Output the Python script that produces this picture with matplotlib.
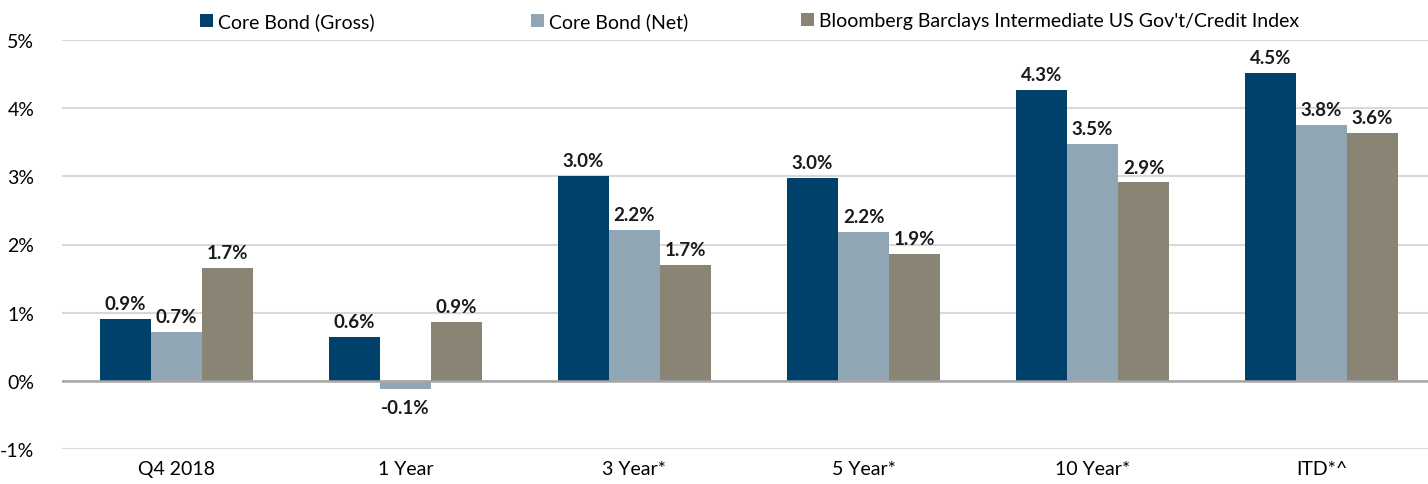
import matplotlib

matplotlib.use("Agg")
import matplotlib.pyplot as plt
import numpy as np

plt.rcParams["font.family"] = ["Lato", "DejaVu Sans"]

categories = ["Q4 2018", "1 Year", "3 Year*", "5 Year*", "10 Year*", "ITD*^"]
gross = [0.91, 0.64, 3.01, 2.98, 4.27, 4.51]
net = [0.72, -0.12, 2.22, 2.18, 3.48, 3.76]
index = [1.66, 0.87, 1.70, 1.86, 2.91, 3.63]
series_names = [
    "Core Bond (Gross)",
    "Core Bond (Net)",
    "Bloomberg Barclays Intermediate US Gov't/Credit Index",
]
colors = ["#00416B", "#91A6B4", "#8A8474"]
legend_left = [200, 531, 801]  # pixel x of each legend square

W, H = 1428, 485
fig = plt.figure(figsize=(W / 100, H / 100), dpi=100)
ax = fig.add_axes([62 / W, 35 / H, (W - 62) / W, 409 / H])

x = np.arange(len(categories))
bw = 51 / 229
bar_groups = []
for k, (vals, name, col) in enumerate(zip([gross, net, index], series_names, colors)):
    pos = x + (k - 1) * bw
    bars = ax.bar(pos, vals, width=bw, color=col, label=name, zorder=3)
    bar_groups.append(bars)
    for p, v in zip(pos, vals):
        off = 5 if v >= 0 else -7
        ax.annotate(
            f"{v:.1f}%",
            (p, v),
            xytext=(0, off),
            textcoords="offset points",
            ha="center",
            va="bottom" if v >= 0 else "top",
            fontsize=13.5,
            fontweight="bold",
            color="#1a1a1a",
        )

ax.set_xlim(-0.5, -0.5 + (W - 62) / 229)
ax.set_ylim(-1, 5)
ax.set_yticks(range(-1, 6))
ax.set_yticklabels([f"{t}%" for t in range(-1, 6)], fontsize=14)
ax.set_xticks(x)
ax.set_xticklabels(categories, fontsize=14)
ax.tick_params(length=0)
ax.tick_params(axis="x", pad=8)
ax.tick_params(axis="y", pad=20)
for s in ax.spines.values():
    s.set_visible(False)
ax.yaxis.grid(True, color="#D9D9D9", linewidth=1.5, zorder=0)
ax.axhline(0, color="#A6A6A6", linewidth=1.8, zorder=4)

# one legend per entry, placed like the original's uneven spacing
for bars, name, lx in zip(bar_groups, series_names, legend_left):
    fig.legend(
        [bars],
        [name],
        loc="center left",
        bbox_to_anchor=(lx / W, 1 - 22 / H),
        frameon=False,
        fontsize=14,
        handlelength=0.65,
        handleheight=0.65,
        handletextpad=0.3,
        borderpad=0,
        borderaxespad=0,
    )

fig.savefig("out.png", dpi=100)
